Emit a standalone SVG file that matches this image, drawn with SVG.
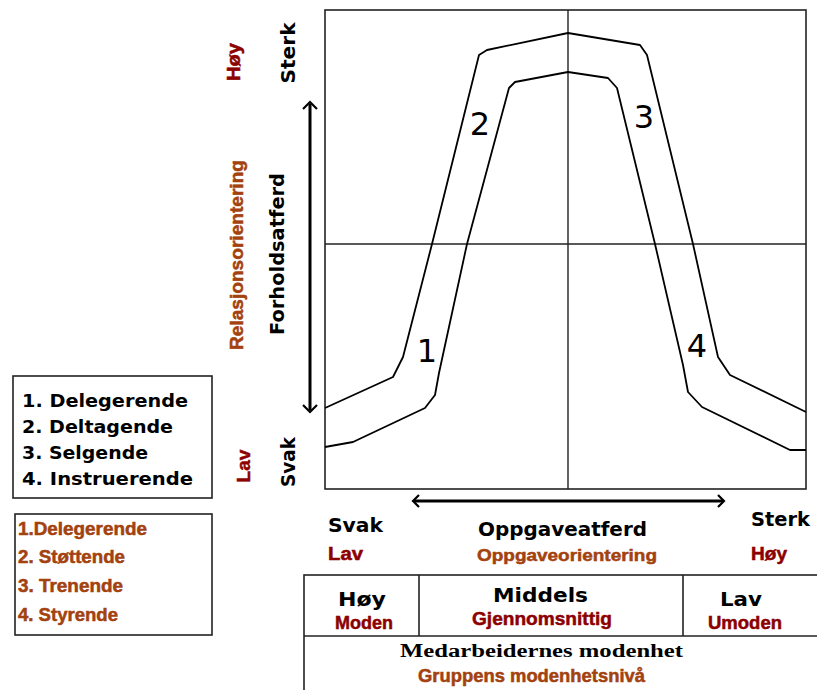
<svg xmlns="http://www.w3.org/2000/svg" width="817" height="690" viewBox="0 0 817 690">
<style>
.bk{font-family:"DejaVu Sans","Liberation Sans",sans-serif;font-weight:bold;fill:#000}
.rd{font-family:"Liberation Sans",Arial,sans-serif;font-weight:bold;fill:#8C0000;stroke:#8C0000;stroke-width:0.5}
.br{font-family:"Liberation Sans",Arial,sans-serif;font-weight:bold;fill:#A3420E;stroke:#A3420E;stroke-width:0.5}
.num{font-family:"DejaVu Sans",sans-serif;font-size:32px;fill:#000}
.frame{fill:none;stroke:#222;stroke-width:1.6}
.thin{stroke:#222;stroke-width:1.4;fill:none}
.curve{fill:none;stroke:#000;stroke-width:1.8;stroke-linejoin:round}
.arr{fill:none;stroke:#000;stroke-width:3}
.head{fill:none;stroke:#000;stroke-width:2.2;stroke-linejoin:miter}
</style>
<rect width="817" height="690" fill="#fff"/>

<g id="chart">
<rect class="frame" x="325" y="10" width="481" height="479"/>
<line class="thin" x1="325" y1="244" x2="806" y2="244"/>
<line class="thin" x1="568" y1="10" x2="568" y2="489"/>
</g>

<g id="connectors">
<polyline class="curve" points="325,408 393,377 403,357 432,244 479,55 487,50 568,33 640,45 647,55 693,244 718,357 730,375 806,412"/>
<polyline class="curve" points="325,447 353,442 425,408 435,395 439,373 467,244 509,88 515,82 568,72 608,78 617,88 655,244 683,365 688,392 702,407 790,450 806,450"/>
<line class="arr" x1="310" y1="104" x2="310" y2="410"/>
<polyline class="head" points="303,109 310,102 317,109"/>
<polyline class="head" points="303,405 310,412 317,405"/>
<line class="arr" x1="414" y1="501" x2="723" y2="501"/>
<polyline class="head" points="419,495 413,501 419,507"/>
<polyline class="head" points="718,495 724,501 718,507"/>
</g>

<g id="curve-labels">
<text class="num" x="427" y="362" text-anchor="middle">1</text>
<text class="num" x="480" y="135" text-anchor="middle">2</text>
<text class="num" x="644" y="128" text-anchor="middle">3</text>
<text class="num" x="697" y="357" text-anchor="middle">4</text>
</g>

<g id="y-axis-labels">
<text class="rd" font-size="19" text-anchor="middle" textLength="38" lengthAdjust="spacingAndGlyphs" transform="translate(240,62) rotate(-90)">Høy</text>
<text class="bk" font-size="20" text-anchor="middle" textLength="61" lengthAdjust="spacingAndGlyphs" transform="translate(295,53) rotate(-90)">Sterk</text>
<text class="br" font-size="18" text-anchor="middle" textLength="190" lengthAdjust="spacingAndGlyphs" transform="translate(243,255) rotate(-90)">Relasjonsorientering</text>
<text class="bk" font-size="20" text-anchor="middle" textLength="162" lengthAdjust="spacingAndGlyphs" transform="translate(284,254) rotate(-90)">Forholdsatferd</text>
<text class="rd" font-size="19" text-anchor="middle" textLength="33" lengthAdjust="spacingAndGlyphs" transform="translate(250,466) rotate(-90)">Lav</text>
<text class="bk" font-size="20" text-anchor="middle" textLength="50" lengthAdjust="spacingAndGlyphs" transform="translate(295,462) rotate(-90)">Svak</text>
</g>

<g id="x-axis-labels">
<text class="bk" font-size="19" x="328" y="532" textLength="55" lengthAdjust="spacingAndGlyphs">Svak</text>
<text class="rd" font-size="18" x="328" y="560" textLength="35" lengthAdjust="spacingAndGlyphs">Lav</text>
<text class="bk" font-size="19" x="478" y="536" textLength="169" lengthAdjust="spacingAndGlyphs">Oppgaveatferd</text>
<text class="br" font-size="17" x="477" y="561" textLength="180" lengthAdjust="spacingAndGlyphs">Oppgaveorientering</text>
<text class="bk" font-size="19" x="751" y="526" textLength="59" lengthAdjust="spacingAndGlyphs">Sterk</text>
<text class="rd" font-size="18" x="751" y="560" textLength="36" lengthAdjust="spacingAndGlyphs">Høy</text>
</g>

<g id="legend-1">
<rect class="frame" x="13" y="376" width="199" height="122"/>
<text class="bk" font-size="18" x="22" y="407" textLength="166" lengthAdjust="spacingAndGlyphs">1. Delegerende</text>
<text class="bk" font-size="18" x="22" y="433" textLength="151" lengthAdjust="spacingAndGlyphs">2. Deltagende</text>
<text class="bk" font-size="18" x="22" y="459" textLength="126" lengthAdjust="spacingAndGlyphs">3. Selgende</text>
<text class="bk" font-size="18" x="22" y="485" textLength="171" lengthAdjust="spacingAndGlyphs">4. Instruerende</text>
</g>

<g id="legend-2">
<rect class="frame" x="15" y="514" width="197" height="121"/>
<text class="br" font-size="18" x="18" y="535" textLength="129" lengthAdjust="spacingAndGlyphs">1.Delegerende</text>
<text class="br" font-size="18" x="18" y="563" textLength="107" lengthAdjust="spacingAndGlyphs">2. Støttende</text>
<text class="br" font-size="18" x="18" y="592" textLength="105" lengthAdjust="spacingAndGlyphs">3. Trenende</text>
<text class="br" font-size="18" x="18" y="621" textLength="100" lengthAdjust="spacingAndGlyphs">4. Styrende</text>
</g>

<g id="maturity-table">
<rect class="frame" x="304" y="575" width="520" height="130"/>
<line class="frame" x1="304" y1="636" x2="817" y2="636"/>
<line class="frame" x1="419" y1="575" x2="419" y2="636"/>
<line class="frame" x1="683" y1="575" x2="683" y2="636"/>
<text class="bk" font-size="19" x="338" y="606" textLength="48" lengthAdjust="spacingAndGlyphs">Høy</text>
<text class="rd" font-size="19" x="335" y="629" textLength="58" lengthAdjust="spacingAndGlyphs">Moden</text>
<text class="bk" font-size="19" x="493" y="602" textLength="95" lengthAdjust="spacingAndGlyphs">Middels</text>
<text class="rd" font-size="19" x="472" y="625" textLength="140" lengthAdjust="spacingAndGlyphs">Gjennomsnittig</text>
<text class="bk" font-size="19" x="720" y="606" textLength="42" lengthAdjust="spacingAndGlyphs">Lav</text>
<text class="rd" font-size="19" x="708" y="629" textLength="74" lengthAdjust="spacingAndGlyphs">Umoden</text>
<text font-family="'Liberation Serif',serif" font-weight="bold" font-size="18" x="400" y="657" textLength="283" lengthAdjust="spacingAndGlyphs">Medarbeidernes modenhet</text>
<text class="br" font-size="18" x="418" y="682" textLength="227" lengthAdjust="spacingAndGlyphs">Gruppens modenhetsnivå</text>
</g>
</svg>
